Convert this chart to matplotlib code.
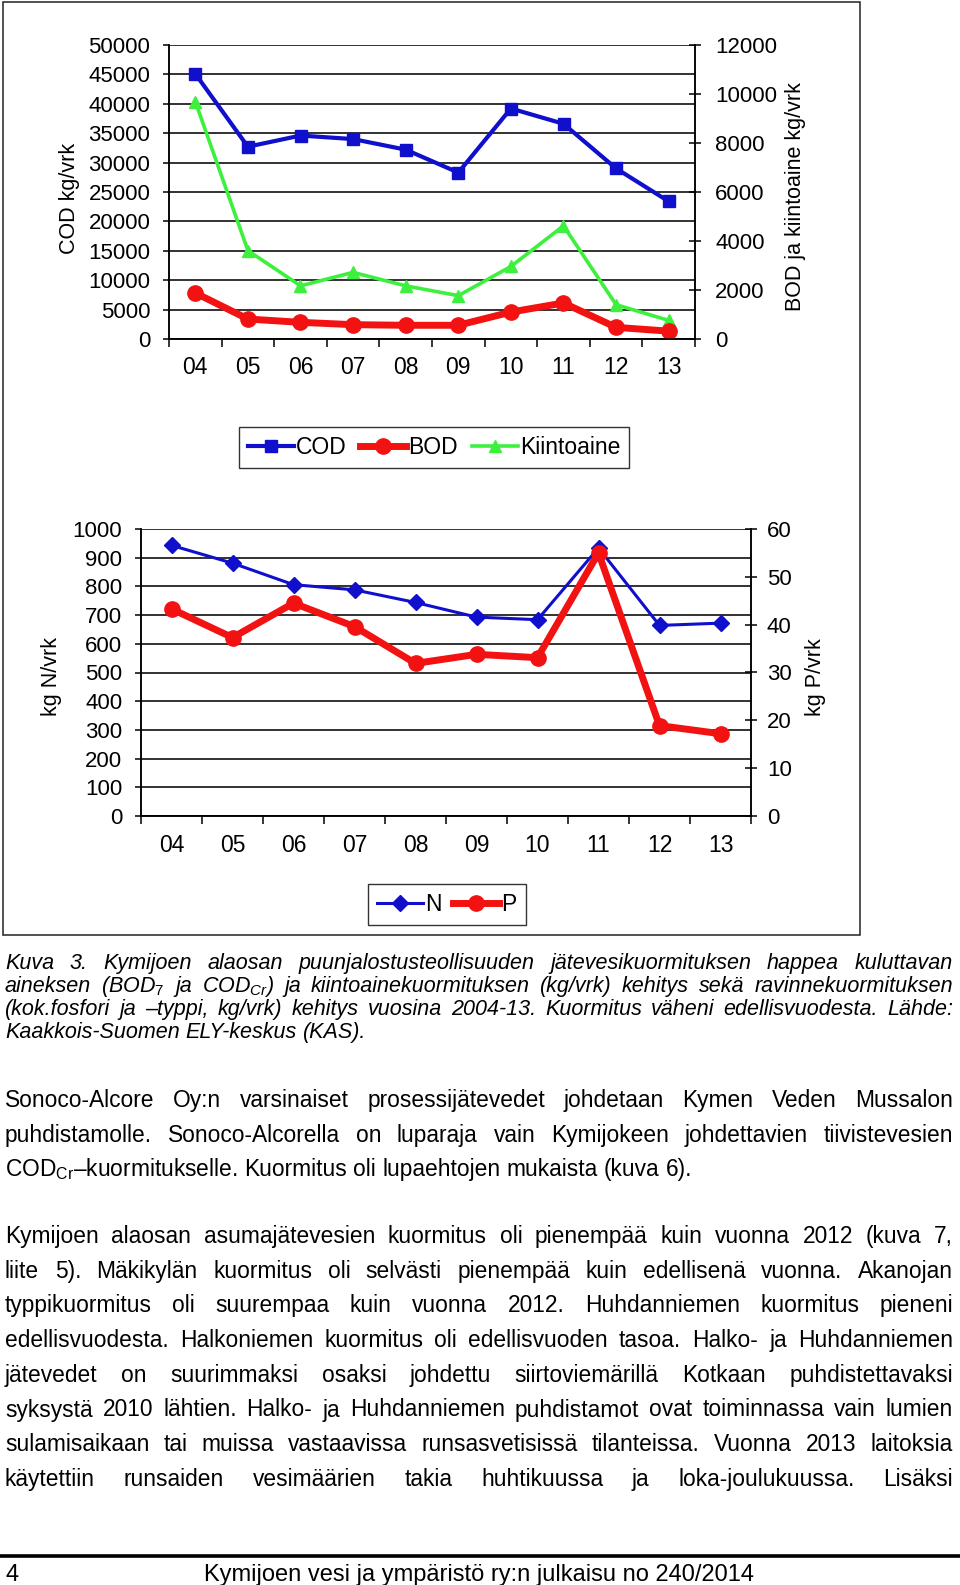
import matplotlib
matplotlib.use("Agg")
import matplotlib.pyplot as plt
from matplotlib.patches import Rectangle

plt.rcParams['font.family'] = ['Liberation Sans', 'DejaVu Sans']
plt.rcParams['mathtext.fontset'] = 'custom'
plt.rcParams['mathtext.rm'] = 'Liberation Sans'
plt.rcParams['mathtext.it'] = 'Liberation Sans:italic'
plt.rcParams['mathtext.bf'] = 'Liberation Sans:bold'

# data
years = ['04', '05', '06', '07', '08', '09', '10', '11', '12', '13']
cod = [45100, 32700, 34600, 34000, 32200, 28300, 39200, 36600, 29000, 23400]
bod = [1880, 815, 680, 585, 560, 560, 1100, 1470, 475, 320]
kiintoaine = [9690, 3610, 2170, 2720, 2170, 1770, 2960, 4620, 1400, 760]
typpi_n = [943, 881, 806, 788, 744, 693, 684, 934, 664, 672]
fosfori_p = [43.3, 37.3, 44.5, 39.6, 31.9, 33.8, 33.1, 55.0, 18.9, 17.2]

caption = [
    "Kuva 3. Kymijoen alaosan puunjalostusteollisuuden jätevesikuormituksen happea kuluttavan",
    "aineksen (BOD$_7$ ja COD$_{Cr}$) ja kiintoainekuormituksen (kg/vrk) kehitys sekä ravinnekuormituksen",
    "(kok.fosfori ja –typpi, kg/vrk) kehitys vuosina 2004-13. Kuormitus väheni edellisvuodesta. Lähde:",
    "Kaakkois-Suomen ELY-keskus (KAS).",
]
para1 = [
    "Sonoco-Alcore Oy:n varsinaiset prosessijätevedet johdetaan Kymen Veden Mussalon",
    "puhdistamolle. Sonoco-Alcorella on luparaja vain Kymijokeen johdettavien tiivistevesien",
    r"COD$_{\mathrm{Cr}}$–kuormitukselle. Kuormitus oli lupaehtojen mukaista (kuva 6).",
]
para2 = [
    "Kymijoen alaosan asumajätevesien kuormitus oli pienempää kuin vuonna 2012 (kuva 7,",
    "liite 5). Mäkikylän kuormitus oli selvästi pienempää kuin edellisenä vuonna. Akanojan",
    "typpikuormitus oli suurempaa kuin vuonna 2012. Huhdanniemen kuormitus pieneni",
    "edellisvuodesta. Halkoniemen kuormitus oli edellisvuoden tasoa. Halko- ja Huhdanniemen",
    "jätevedet on suurimmaksi osaksi johdettu siirtoviemärillä Kotkaan puhdistettavaksi",
    "syksystä 2010 lähtien. Halko- ja Huhdanniemen puhdistamot ovat toiminnassa vain lumien",
    "sulamisaikaan tai muissa vastaavissa runsasvetisissä tilanteissa. Vuonna 2013 laitoksia",
    "käytettiin runsaiden vesimäärien takia huhtikuussa ja loka-joulukuussa. Lisäksi",
]
footer = "Kymijoen vesi ja ympäristö ry:n julkaisu no 240/2014"

W, H = 960, 1585
fig = plt.figure(figsize=(W / 100, H / 100), dpi=100)
fig.patch.set_facecolor('white')

BLUE = '#1010CC'
RED = '#F21212'
GREEN = '#3DF03D'
GRID = '#222222'
TICK_FS = 16


def px_axes(left, right, top, bottom):
    return fig.add_axes([left / W, (H - bottom) / H, (right - left) / W, (bottom - top) / H])


def style_axes(ax, ax2, ymax, ystep, ymax2, ystep2, right_pad):
    x = list(range(len(years)))
    ax.set_xlim(-0.5, len(years) - 0.5)
    ax.set_xticks(x)
    ax.set_xticklabels(years)
    ax.set_xticks([i - 0.5 for i in range(len(years) + 1)], minor=True)
    ax.tick_params(axis='x', which='major', length=0, pad=12, labelsize=TICK_FS + 0.5)
    ax.tick_params(axis='x', which='minor', length=6, width=1.1, direction='out', color='black')
    ax.set_ylim(0, ymax)
    ax.set_yticks(range(0, ymax + 1, ystep))
    ax.tick_params(axis='y', length=4.5, width=1.1, direction='out', pad=9, labelsize=TICK_FS)
    ax.yaxis.grid(True, color=GRID, linewidth=1.3)
    ax.set_axisbelow(True)
    ax2.set_ylim(0, ymax2)
    ax2.set_yticks(range(0, ymax2 + 1, ystep2))
    ax2.tick_params(axis='y', length=9, width=1.1, direction='inout', pad=right_pad, labelsize=TICK_FS)
    for a in (ax, ax2):
        a.spines['top'].set_visible(False)
        for s in ('left', 'right', 'bottom'):
            a.spines[s].set_linewidth(1.1)
            a.spines[s].set_color('black')


# top chart
ax1 = px_axes(169, 695, 45, 339)
ax1b = ax1.twinx()
x = list(range(len(years)))
l_cod, = ax1.plot(x, cod, color=BLUE, lw=3, marker='s', ms=9, label='COD', zorder=3)
l_kiin, = ax1b.plot(x, kiintoaine, color=GREEN, lw=2.6, marker='^', ms=9, label='Kiintoaine')
l_bod, = ax1b.plot(x, bod, color=RED, lw=5, marker='o', ms=11, label='BOD')
style_axes(ax1, ax1b, 50000, 5000, 12000, 2000, 10)
fig.legend([l_cod, l_bod, l_kiin], ['COD', 'BOD', 'Kiintoaine'], loc='center',
           bbox_to_anchor=(434 / W, 1 - 447.5 / H), ncol=3, fontsize=16.5, frameon=True,
           fancybox=False, edgecolor='#333333', handlelength=2.0, handletextpad=0.1,
           columnspacing=0.6, borderpad=0.4, framealpha=1)

# bottom chart
ax2 = px_axes(141, 751, 529, 816)
ax2b = ax2.twinx()
l_n, = ax2.plot(x, typpi_n, color=BLUE, lw=2.2, marker='D', ms=8, label='N', zorder=3)
l_p, = ax2b.plot(x, fosfori_p, color=RED, lw=5, marker='o', ms=11, label='P')
style_axes(ax2, ax2b, 1000, 100, 60, 10, 7)
ax2.tick_params(axis='x', which='major', pad=13)
fig.legend([l_n, l_p], ['N', 'P'], loc='center',
           bbox_to_anchor=(447 / W, 1 - 904.5 / H), ncol=2, fontsize=16.5, frameon=True,
           fancybox=False, edgecolor='#333333', handlelength=2.0, handletextpad=0.1,
           columnspacing=0.5, borderpad=0.4, framealpha=1)

# overlay in page pixels for the frame, axis titles and the text
page = fig.add_axes([0, 0, 1, 1])
page.set_xlim(0, W)
page.set_ylim(H, 0)
page.axis('off')
page.patch.set_alpha(0)

page.add_patch(Rectangle((3, 2), 857, 933, fill=False, edgecolor='#222222', lw=1.1))
page.text(69, 198, 'COD kg/vrk', rotation=90, ha='center', va='center', fontsize=15.5)
page.text(795, 197, 'BOD ja kiintoaine kg/vrk', rotation=90, ha='center', va='center', fontsize=15.5)
page.text(52, 677, 'kg N/vrk', rotation=90, ha='center', va='center', fontsize=15.5)
page.text(815, 677, 'kg P/vrk', rotation=90, ha='center', va='center', fontsize=15.5)

X0, X1 = 5, 953
renderer = fig.canvas.get_renderer()


def text_line(line, y, justify, fontsize, **kw):
    words = line.split(' ')
    items = [page.text(0, y, w, ha='left', va='baseline', fontsize=fontsize, **kw) for w in words]
    widths = [t.get_window_extent(renderer).width for t in items]
    space = 0.278 * fontsize * 100 / 72
    need = sum(widths) + (len(words) - 1) * space
    if justify and need > X1 - X0:
        # shrink this line a little so normal word gaps still fit
        fontsize *= (X1 - X0) / need
        for t in items:
            t.set_fontsize(fontsize)
        widths = [t.get_window_extent(renderer).width for t in items]
        space = 0.278 * fontsize * 100 / 72
    gap = space
    if justify and len(items) > 1:
        gap = max((X1 - X0 - sum(widths)) / (len(items) - 1), space)
    pos = X0
    for t, w in zip(items, widths):
        t.set_x(pos)
        pos += w + gap


for i, line in enumerate(caption):
    text_line(line, 969 + i * 23, i < len(caption) - 1, 15.5, style='italic')

for i, line in enumerate(para1):
    text_line(line, 1107 + i * 34.7, i < len(para1) - 1, 16.4)

for i, line in enumerate(para2):
    text_line(line, 1243 + i * 34.7, True, 16.4)

page.plot([0, W], [1556, 1556], color='black', lw=2.6, solid_capstyle='butt')
page.text(5, 1581, '4', ha='left', va='baseline', fontsize=17)
page.text(479, 1581, footer, ha='center', va='baseline', fontsize=17)

fig.savefig('out.png', dpi=100)
